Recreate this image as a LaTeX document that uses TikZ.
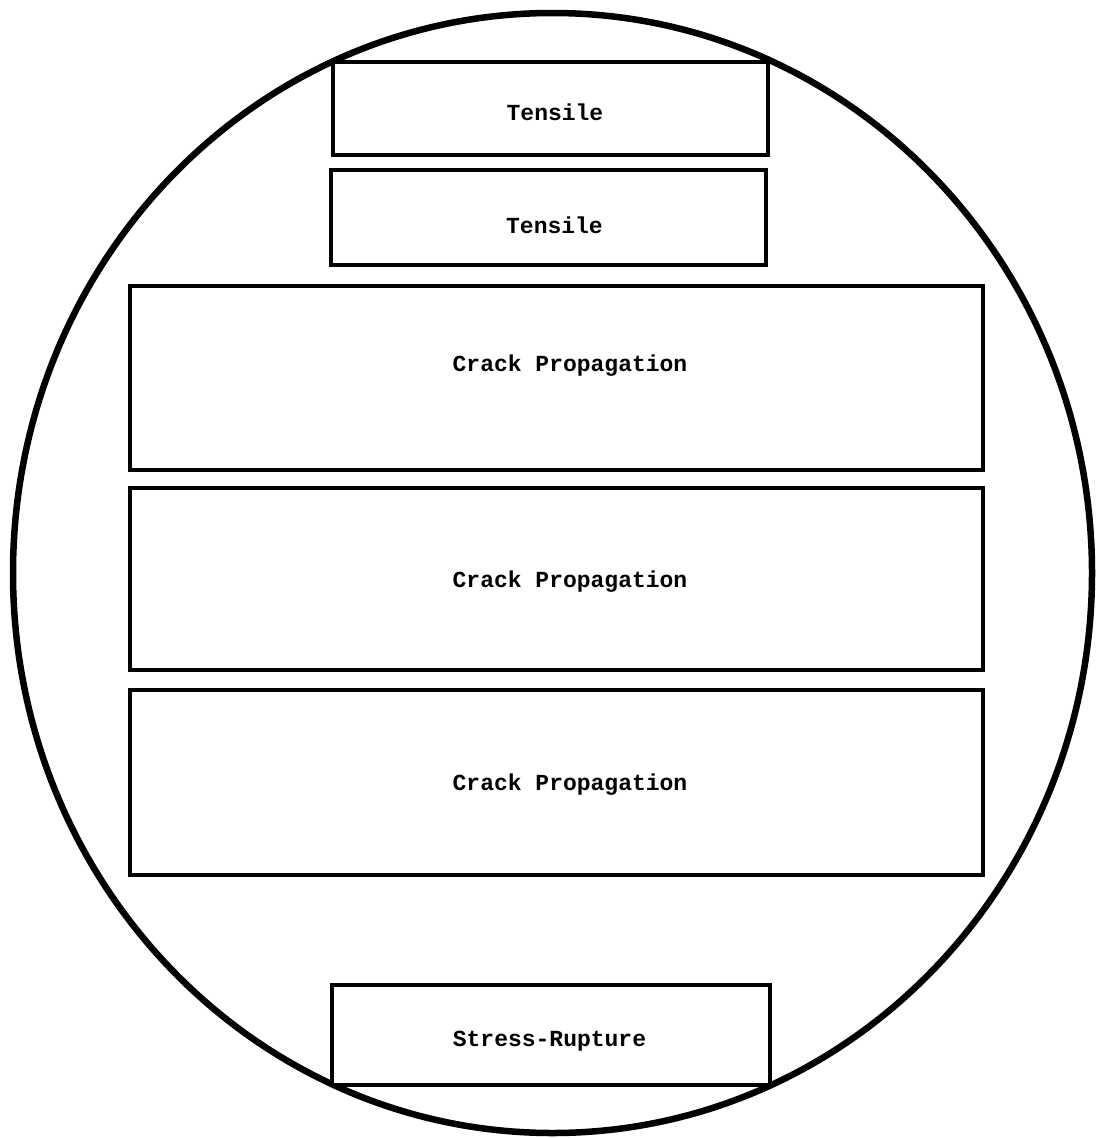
\documentclass[tikz,border=0pt]{standalone}
\usepackage{fontspec}
\setmonofont{Liberation Mono}
\begin{document}
\begin{tikzpicture}
  [x=1pt,y=-1pt,
   specimen/.style={draw,line width=3.5pt,fill=white,inner sep=0pt},
   tag/.style={inner sep=0pt,font=\fontsize{23}{28}\selectfont\ttfamily\bfseries},
   narrow/.style={minimum width=435pt},
   wide/.style={minimum width=853pt}]
  \useasboundingbox (0,0) rectangle (1096,1138);
  % outline of the disk
  \draw
    [line width=6.5pt]
    (552.5,573) ellipse (539.5 and 560)
  ;
  % specimen blanks, top to bottom (labels typed a little off centre)
  \node (tensile top) [specimen,narrow,minimum height=93pt,
      label={[tag,xshift=4.5pt,yshift=-3.5pt]center:Tensile}]
    at (550.5,108.5) {};
  \node (tensile low) [specimen,narrow,minimum height=95pt,
      label={[tag,xshift=6pt,yshift=-7.5pt]center:Tensile}]
    at (548.5,217.5) {};
  \node (crack top) [specimen,wide,minimum height=184pt,
      label={[tag,xshift=13.5pt,yshift=12pt]center:Crack Propagation}]
    at (556.5,378) {};
  \node (crack mid) [specimen,wide,minimum height=182pt,
      label={[tag,xshift=13.5pt,yshift=-3pt]center:Crack Propagation}]
    at (556.5,579) {};
  \node (crack low) [specimen,wide,minimum height=185pt,
      label={[tag,xshift=13.5pt,yshift=-2.5pt]center:Crack Propagation}]
    at (556.5,782.5) {};
  \node (rupture) [specimen,minimum width=438pt,minimum height=100pt,
      label={[tag,xshift=-1.5pt,yshift=-6pt]center:Stress-Rupture}]
    at (551,1035) {};
\end{tikzpicture}
\end{document}
